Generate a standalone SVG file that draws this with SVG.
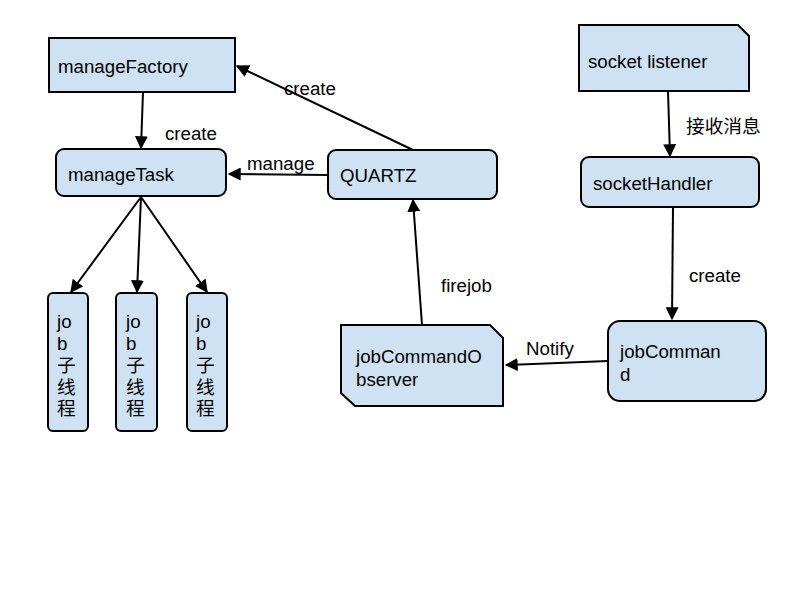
<svg xmlns="http://www.w3.org/2000/svg" width="800" height="600" viewBox="0 0 800 600">
<style>
.n{fill:#cfe2f3;stroke:#000;stroke-width:2}
.t{font-family:"Liberation Sans","Noto Sans CJK SC",sans-serif;font-size:18.7px;fill:#000}
.c{stroke:#000;stroke-width:2;fill:none;marker-end:url(#a)}
</style>
<defs>
<marker id="a" viewBox="0 0 10 10" refX="9" refY="5" markerWidth="6.5" markerHeight="6.5" orient="auto" markerUnits="strokeWidth">
<path d="M0,0 L10,5 L0,10 z" fill="#000"/>
</marker>
</defs>
<rect width="800" height="600" fill="#fff"/>
<g id="connectors">
<line class="c" x1="143" y1="92" x2="141" y2="148"/>
<line class="c" x1="328" y1="175" x2="229" y2="174"/>
<line class="c" x1="413" y1="150" x2="237" y2="66"/>
<line class="c" x1="141" y1="197" x2="71" y2="292"/>
<line class="c" x1="141" y1="197" x2="137" y2="292"/>
<line class="c" x1="141" y1="197" x2="207" y2="292"/>
<line class="c" x1="668" y1="91" x2="670" y2="156"/>
<line class="c" x1="673" y1="207" x2="672" y2="319"/>
<line class="c" x1="608" y1="361" x2="506" y2="365"/>
<line class="c" x1="422" y1="325" x2="413" y2="200"/>
<text class="t" x="165" y="140">create</text>
<text class="t" x="247" y="170">manage</text>
<text class="t" x="284" y="95">create</text>
<text class="t" x="686" y="133">接收消息</text>
<text class="t" x="689" y="282">create</text>
<text class="t" x="526" y="355">Notify</text>
<text class="t" x="441" y="292">firejob</text>
</g>
<g id="manageFactory">
<rect class="n" x="49" y="38" width="186" height="54"/>
<text class="t" x="58" y="73">manageFactory</text>
</g>
<g id="manageTask">
<rect class="n" x="56" y="149" width="170" height="47" rx="8"/>
<text class="t" x="68" y="181">manageTask</text>
</g>
<g id="quartz">
<rect class="n" x="328" y="150" width="169" height="49" rx="8"/>
<text class="t" x="340" y="182">QUARTZ</text>
</g>
<g id="socketListener">
<path class="n" d="M579,25 H738 L749,36 V91 H579 Z"/>
<text class="t" x="588" y="68">socket listener</text>
</g>
<g id="socketHandler">
<rect class="n" x="581" y="157" width="178" height="50" rx="8"/>
<text class="t" x="593" y="190">socketHandler</text>
</g>
<g id="jobCommand">
<rect class="n" x="608" y="321" width="158" height="80" rx="12"/>
<text class="t" x="620" y="358">jobComman</text>
<text class="t" x="620" y="381">d</text>
</g>
<g id="jobCommandObserver">
<path class="n" d="M341,325 H490 L503,338 V406 H355 L341,393 Z"/>
<text class="t" x="356" y="363">jobCommandO</text>
<text class="t" x="356" y="386">bserver</text>
</g>
<g id="job1">
<rect class="n" x="48" y="293" width="40" height="138" rx="5"/>
<text class="t" x="57"><tspan x="57" y="328">jo</tspan><tspan x="57" y="350">b</tspan><tspan x="57" y="372">子</tspan><tspan x="57" y="394">线</tspan><tspan x="57" y="415">程</tspan></text>
</g>
<g id="job2">
<rect class="n" x="116" y="293" width="41" height="138" rx="5"/>
<text class="t" x="126"><tspan x="126" y="328">jo</tspan><tspan x="126" y="350">b</tspan><tspan x="126" y="372">子</tspan><tspan x="126" y="394">线</tspan><tspan x="126" y="415">程</tspan></text>
</g>
<g id="job3">
<rect class="n" x="187" y="293" width="40" height="138" rx="5"/>
<text class="t" x="196"><tspan x="196" y="328">jo</tspan><tspan x="196" y="350">b</tspan><tspan x="196" y="372">子</tspan><tspan x="196" y="394">线</tspan><tspan x="196" y="415">程</tspan></text>
</g>
</svg>
